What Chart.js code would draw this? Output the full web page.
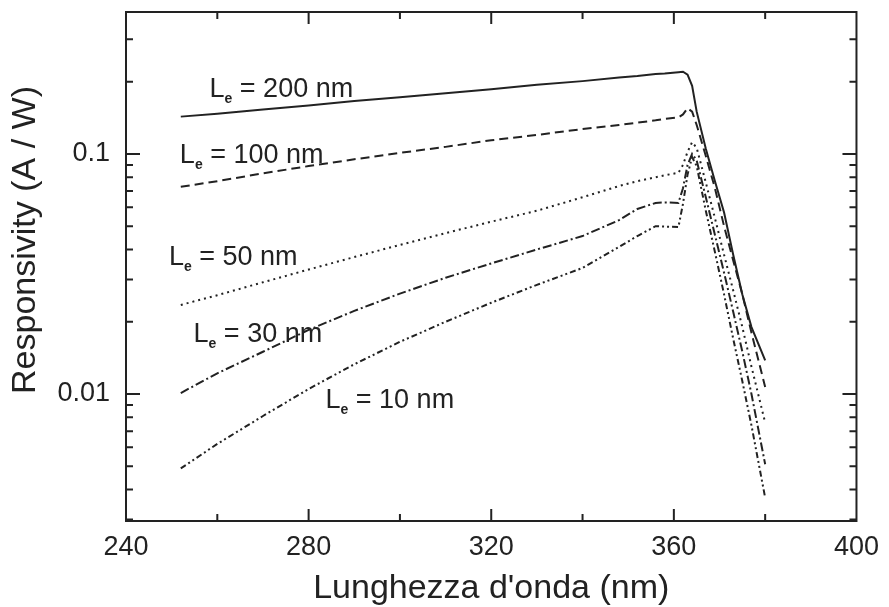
<!DOCTYPE html>
<html>
<head>
<meta charset="utf-8">
<script src="https://cdn.jsdelivr.net/npm/chart.js@4.4.1/dist/chart.umd.min.js"></script>
<style>
  body { margin: 0; background: #fff; }
  canvas { display: block; }
</style>
</head>
<body>
<canvas id="resp" width="889" height="607"></canvas>
<script>
// wavelength grid (nm) shared by every curve
const wavelength = [252, 260, 270, 280, 290, 300, 310, 320, 330, 340, 348, 352, 356, 358, 361,
  362, 363, 364, 365, 367, 369, 371, 373, 375, 377, 380];

// responsivity (A/W) for each diffusion length
const le200 = [0.143, 0.147, 0.153, 0.159, 0.166, 0.172, 0.179, 0.186, 0.194, 0.201, 0.208, 0.211, 0.215, 0.216, 0.219,
  0.220, 0.214, 0.192, 0.150, 0.105, 0.077, 0.057, 0.038, 0.026, 0.019, 0.0138];
const le100 = [0.073, 0.077, 0.083, 0.089, 0.095, 0.101, 0.107, 0.114, 0.120, 0.127, 0.132, 0.135, 0.138, 0.140, 0.142,
  0.146, 0.155, 0.150, 0.132, 0.098, 0.072, 0.050, 0.036, 0.026, 0.018, 0.0107];
const le50 = [0.0235, 0.0258, 0.0292, 0.0330, 0.0372, 0.0418, 0.0468, 0.0522, 0.0580, 0.0660, 0.0735, 0.0770, 0.0800, 0.0815, 0.0835,
  0.090, 0.102, 0.112, 0.106, 0.076, 0.054, 0.038, 0.027, 0.019, 0.013, 0.0076];
const le30 = [0.0101, 0.0122, 0.0150, 0.0185, 0.0222, 0.0262, 0.0305, 0.0350, 0.0400, 0.0455, 0.0530, 0.0590, 0.0625, 0.0628, 0.0625,
  0.072, 0.090, 0.100, 0.094, 0.066, 0.046, 0.032, 0.022, 0.015, 0.010, 0.0051];
const le10 = [0.0049, 0.0062, 0.0081, 0.0105, 0.0133, 0.0165, 0.0200, 0.0240, 0.0285, 0.0335, 0.0410, 0.0455, 0.0500, 0.0498, 0.0496,
  0.062, 0.082, 0.097, 0.089, 0.058, 0.039, 0.026, 0.017, 0.0113, 0.0074, 0.0037];

const xTicks = [240, 280, 320, 360, 400];
const yTicks = [0.01, 0.1];

// curve labels: [diffusion length text, wavelength, responsivity] at text baseline start
const curveLabels = [
  ['200 nm', 258.3, 0.173],
  ['100 nm', 251.8, 0.0917],
  ['50 nm', 249.4, 0.0345],
  ['30 nm', 254.8, 0.0165],
  ['10 nm', 283.7, 0.00874],
];

const INK = '#222';
const FONT = '"Liberation Sans", Arial, Helvetica, sans-serif';

const series = [
  { data: le200, dash: [] },
  { data: le100, dash: [9, 5] },
  { data: le50, dash: [2, 4] },
  { data: le30, dash: [9, 3, 2, 3] },
  { data: le10, dash: [6, 3, 2, 3, 2, 3] },
];

const datasets = series.map(s => ({
  data: wavelength.map((w, i) => ({ x: w, y: s.data[i] })),
  showLine: true,
  borderColor: INK,
  borderWidth: 2,
  borderDash: s.dash,
  pointRadius: 0,
  tension: 0,
}));

// box frame, inward ticks on all four sides, axis titles and curve labels
const decorations = {
  id: 'decorations',
  afterDraw(chart) {
    const { ctx, chartArea: a, scales: { x, y } } = chart;
    ctx.save();
    ctx.strokeStyle = INK;
    ctx.lineWidth = 2;
    ctx.strokeRect(a.left, a.top, a.right - a.left, a.bottom - a.top);

    ctx.beginPath();
    for (let v = 260; v < 400; v += 20) {
      const px = x.getPixelForValue(v);
      const len = v % 40 === 0 ? 12 : 7;
      ctx.moveTo(px, a.bottom); ctx.lineTo(px, a.bottom - len);
      ctx.moveTo(px, a.top); ctx.lineTo(px, a.top + len);
    }
    for (const dec of [0.001, 0.01, 0.1]) {
      for (let m = 1; m <= 9; m++) {
        const v = m * dec;
        if (v < y.min || v > y.max) continue;
        const py = y.getPixelForValue(v);
        const len = m === 1 ? 14 : 7;
        ctx.moveTo(a.left, py); ctx.lineTo(a.left + len, py);
        ctx.moveTo(a.right, py); ctx.lineTo(a.right - len, py);
      }
    }
    ctx.stroke();

    ctx.fillStyle = INK;
    ctx.font = '34px ' + FONT;
    ctx.textAlign = 'center';
    ctx.textBaseline = 'alphabetic';
    ctx.fillText("Lunghezza d'onda (nm)", (a.left + a.right) / 2, 598);
    ctx.save();
    ctx.translate(35, 240);
    ctx.rotate(-Math.PI / 2);
    ctx.fillText('Responsivity (A / W)', 0, 0);
    ctx.restore();

    ctx.textAlign = 'left';
    for (const [txt, wl, r] of curveLabels) {
      let px = x.getPixelForValue(wl);
      const py = y.getPixelForValue(r);
      ctx.font = '27px ' + FONT;
      ctx.fillText('L', px, py);
      px += ctx.measureText('L').width;
      ctx.font = 'bold 14px ' + FONT;
      ctx.fillText('e', px, py + 6);
      px += ctx.measureText('e').width;
      ctx.font = '27px ' + FONT;
      ctx.fillText(' = ' + txt, px, py);
    }
    ctx.restore();
  }
};

new Chart(document.getElementById('resp'), {
  type: 'scatter',
  data: { datasets },
  options: {
    responsive: false,
    animation: false,
    layout: { padding: { top: 12, right: 28, left: 0, bottom: 0 } },
    plugins: { legend: { display: false }, tooltip: { enabled: false } },
    scales: {
      x: {
        type: 'linear',
        min: 240,
        max: 400,
        afterBuildTicks: s => { s.ticks = xTicks.map(value => ({ value })); },
        ticks: { color: INK, font: { family: FONT, size: 27 }, padding: 10, maxRotation: 0 },
        grid: { display: false, drawTicks: false },
        border: { display: false },
        afterFit: s => { s.height = 86; },
      },
      y: {
        type: 'logarithmic',
        min: 0.00296,
        max: 0.39,
        afterBuildTicks: s => { s.ticks = yTicks.map(value => ({ value })); },
        ticks: { color: INK, font: { family: FONT, size: 27 }, padding: 16, callback: v => String(v) },
        grid: { display: false, drawTicks: false },
        border: { display: false },
        // tick labels sit well inside the axis, so no extra room above or below
        afterFit: s => { s.width = 126; s.paddingTop = 0; s.paddingBottom = 0; },
      },
    },
  },
  plugins: [decorations],
});
</script>
</body>
</html>
